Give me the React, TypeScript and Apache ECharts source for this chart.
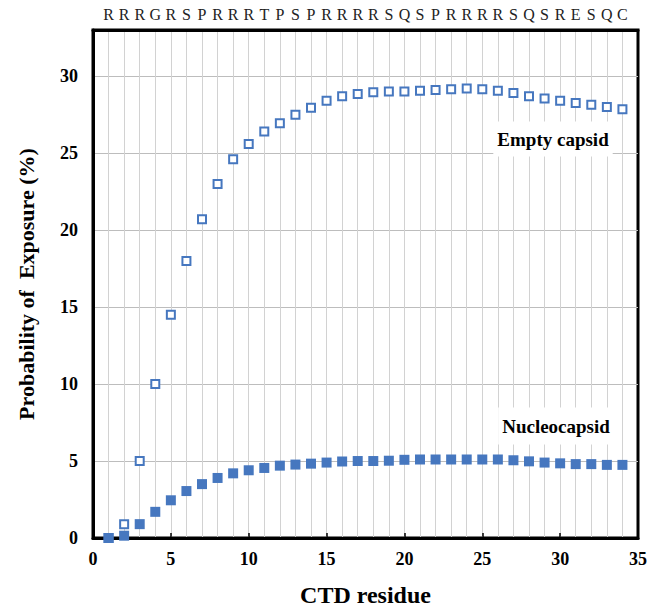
import React, { useEffect, useRef } from "react";
import * as echarts from "echarts";

const residues = [1, 2, 3, 4, 5, 6, 7, 8, 9, 10, 11, 12, 13, 14, 15, 16, 17, 18, 19, 20, 21, 22, 23, 24, 25, 26, 27, 28, 29, 30, 31, 32, 33, 34];
const sequence = "RRRGRSPRRRTPSPRRRRSQSPRRRRSQSRESQC".split("");
const emptyCapsid = [0, 0.9, 5.0, 10.0, 14.5, 18.0, 20.7, 23.0, 24.6, 25.6, 26.4, 26.95, 27.5, 27.95, 28.4, 28.7, 28.85, 28.95, 29.0, 29.0, 29.05, 29.1, 29.15, 29.2, 29.15, 29.05, 28.9, 28.7, 28.55, 28.4, 28.25, 28.15, 28.0, 27.85];
const nucleocapsid = [0, 0.15, 0.9, 1.7, 2.45, 3.05, 3.5, 3.9, 4.2, 4.4, 4.55, 4.7, 4.77, 4.83, 4.9, 4.97, 5.0, 5.0, 5.02, 5.08, 5.1, 5.1, 5.1, 5.1, 5.1, 5.1, 5.05, 4.98, 4.9, 4.85, 4.8, 4.8, 4.75, 4.75];
const xTicks = [0, 5, 10, 15, 20, 25, 30, 35];
const yTicks = [0, 5, 10, 15, 20, 25, 30];

const FONT = "'Liberation Serif', 'Times New Roman', serif";
const BLUE = "#4677BF";

export default function App() {
  const ref = useRef<HTMLDivElement>(null);
  useEffect(() => {
    if (!ref.current) return;
    const chart = echarts.init(ref.current, null, { renderer: "svg" });
    chart.setOption({
      animation: false,
      backgroundColor: "#fff",
      grid: {
        left: 93,
        right: 25,
        top: 30,
        bottom: 74,
        show: true,
        borderColor: "#000",
        borderWidth: 3,
        backgroundColor: "transparent",
      },
      xAxis: [
        {
          type: "value",
          position: "bottom",
          min: 0,
          max: 35,
          interval: 5,
          name: "CTD residue",
          nameLocation: "middle",
          nameGap: 45,
          nameTextStyle: { fontFamily: FONT, fontWeight: "bold", fontSize: 24, color: "#000" },
          axisLine: { show: true, lineStyle: { color: "#000", width: 3 } },
          axisTick: { show: true, inside: true, length: 5, lineStyle: { color: "#000", width: 1.5 } },
          axisLabel: {
            margin: 12,
            fontFamily: FONT,
            fontWeight: "bold",
            fontSize: 18,
            color: "#000",
            formatter: (v: number) => (xTicks.includes(v) ? String(v) : ""),
          },
          splitLine: { show: false },
        },
        {
          type: "value",
          position: "top",
          min: 0,
          max: 35,
          interval: 1,
          axisLine: { show: true, lineStyle: { color: "#000", width: 3 } },
          axisTick: { show: false },
          axisLabel: {
            margin: 8,
            fontFamily: FONT,
            fontSize: 16,
            color: "#222",
            formatter: (v: number) => (v >= 1 && v <= sequence.length ? sequence[v - 1] : ""),
          },
          splitLine: { show: true, showMinLine: false, showMaxLine: false, lineStyle: { color: "#d2d2d2", width: 1 } },
        },
      ],
      yAxis: [
        {
          type: "value",
          min: 0,
          max: 33,
          interval: 5,
          name: "Probability of  Exposure (%)",
          nameLocation: "middle",
          nameGap: 56,
          nameTextStyle: { fontFamily: FONT, fontWeight: "bold", fontSize: 22, color: "#000" },
          axisLine: { show: true, lineStyle: { color: "#000", width: 3 } },
          axisTick: { show: false },
          axisLabel: {
            margin: 15,
            fontFamily: FONT,
            fontWeight: "bold",
            fontSize: 18,
            color: "#000",
            formatter: (v: number) => (yTicks.includes(v) ? String(v) : ""),
          },
          splitLine: { show: true, showMinLine: false, showMaxLine: false, lineStyle: { color: "#bdbdbd", width: 1.2 } },
        },
      ],
      series: [
        {
          name: "Empty capsid",
          type: "scatter",
          xAxisIndex: 0,
          symbol: "rect",
          symbolSize: 8,
          itemStyle: { color: "#fff", borderColor: BLUE, borderWidth: 2, opacity: 1 },
          data: residues.map((r, i) => [r, emptyCapsid[i]]),
          z: 3,
        },
        {
          name: "Nucleocapsid",
          type: "scatter",
          xAxisIndex: 0,
          symbol: "rect",
          symbolSize: 10,
          itemStyle: { color: BLUE, opacity: 1 },
          data: residues.map((r, i) => [r, nucleocapsid[i]]),
          z: 4,
        },
      ],
      graphic: [
        {
          type: "text",
          x: 553,
          y: 139,
          z: 10,
          style: {
            text: "Empty capsid",
            fill: "#000",
            font: `bold 19px ${FONT}`,
            textAlign: "center",
            textVerticalAlign: "middle",
            backgroundColor: "#fff",
            padding: [8, 4, 8, 4],
          },
        },
        {
          type: "text",
          x: 556,
          y: 426,
          z: 10,
          style: {
            text: "Nucleocapsid",
            fill: "#000",
            font: `bold 19px ${FONT}`,
            textAlign: "center",
            textVerticalAlign: "middle",
            backgroundColor: "#fff",
            padding: [9, 4, 9, 4],
          },
        },
      ],
    });
    return () => chart.dispose();
  }, []);
  return (
    <div
      ref={ref}
      style={{ position: "absolute", left: 0, top: 0, width: 663, height: 612 }}
    />
  );
}
